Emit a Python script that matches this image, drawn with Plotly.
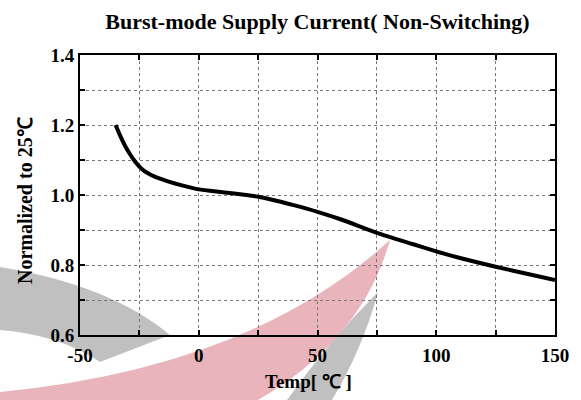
import plotly.graph_objects as go

# ---- data ----
temp = [-35, -33, -31, -29, -27, -25, -23, -21, -19, -16, -13, -10, -5, 0, 10, 20, 25, 30, 40, 50, 60, 75, 90, 100, 110, 125, 140, 150]
norm = [1.200, 1.168, 1.140, 1.117, 1.097, 1.081, 1.069, 1.061, 1.054, 1.046, 1.039, 1.033, 1.024, 1.016, 1.008, 1.0, 0.995, 0.988, 0.971, 0.952, 0.930, 0.892, 0.860, 0.839, 0.820, 0.795, 0.772, 0.757]

x_ticks = [-50, -25, 0, 25, 50, 75, 100, 125, 150]
x_ticktext = ["-50", "", "0", "", "50", "", "100", "", "150"]
y_ticks = [0.6, 0.7, 0.8, 0.9, 1.0, 1.1, 1.2, 1.3, 1.4]
y_ticktext = ["0.6", "", "0.8", "", "1.0", "", "1.2", "", "1.4"]

W, H = 581, 400
ML, MR, MT, MB = 80, 26, 55, 65
PW, PH = W - ML - MR, H - MT - MB


def px(x, y):
    return (x - ML) / PW, (H - MB - y) / PH


def path(cmds):
    out = []
    for c in cmds:
        if isinstance(c, str):
            out.append(c)
        else:
            a, b = px(*c)
            out.append(f"{a:.4f},{b:.4f}")
    return " ".join(out)


FONT = "Liberation Serif, Times New Roman, serif"

fig = go.Figure()
fig.add_trace(go.Scatter(x=temp, y=norm, mode="lines",
                         line=dict(color="black", width=4, shape="spline", smoothing=0.6),
                         showlegend=False, hoverinfo="skip"))

# decorative watermark swooshes
shapes = [
    dict(path=path(["M", (0, 392), "Q", (250, 368), (390, 240), "Q", (362, 340), (258, 400), "L", (0, 400), "Z"]),
         fillcolor="rgb(233,180,188)"),
    dict(path=path(["M", (0, 267), "Q", (110, 285), (170, 335), "L", (100, 362), "Q", (60, 335), (0, 330), "Z"]),
         fillcolor="rgb(192,192,192)"),
    dict(path=path(["M", (378, 292), "Q", (330, 340), (287, 400), "L", (332, 400), "Q", (362, 350), (378, 292), "Z"]),
         fillcolor="rgb(192,192,192)"),
]
for s in shapes:
    fig.add_shape(type="path", path=s["path"], fillcolor=s["fillcolor"], line=dict(width=0),
                  xref="paper", yref="paper", layer="below")

tickfont = dict(family=FONT, size=19, color="black", weight="bold")

axis_common = dict(showline=True, linecolor="black", linewidth=2, mirror="ticks",
                   ticks="inside", ticklen=5, tickwidth=1.5, tickcolor="black",
                   showgrid=True, gridcolor="#777777", gridwidth=1, griddash="dot",
                   zeroline=False, tickfont=tickfont, automargin=False)

fig.update_xaxes(range=[-50, 150], tickvals=x_ticks, ticktext=x_ticktext,
                 ticklabelstandoff=2, **axis_common)
fig.update_yaxes(range=[0.6, 1.4], tickvals=y_ticks, ticktext=y_ticktext, **axis_common)

# axis titles placed as annotations for exact positioning
xt_x, xt_y = px(308, 381)
yt_x, yt_y = px(25, 201)
fig.add_annotation(text="Temp[ ℃ ]", x=xt_x, y=xt_y, xref="paper", yref="paper", showarrow=False,
                   xanchor="center", yanchor="middle",
                   font=dict(family=FONT, size=19, color="black", weight="bold"))
fig.add_annotation(text="Normalized to 25℃", x=yt_x, y=yt_y, xref="paper", yref="paper", showarrow=False,
                   xanchor="center", yanchor="middle", textangle=-90,
                   font=dict(family=FONT, size=20, color="black", weight="bold"))

fig.update_layout(
    width=W, height=H,
    margin=dict(l=ML, r=MR, t=MT, b=MB, autoexpand=False),
    paper_bgcolor="white", plot_bgcolor="rgba(0,0,0,0)",
    title=dict(text="Burst-mode Supply Current( Non-Switching)", x=(ML + PW / 2) / W, xanchor="center",
               y=1 - 21 / H, yanchor="middle", font=dict(family=FONT, size=22, color="black", weight="bold")),
)

fig.write_html("out.html", config={"displayModeBar": False},
               post_script="document.body.style.margin='0';document.body.style.padding='0';")
